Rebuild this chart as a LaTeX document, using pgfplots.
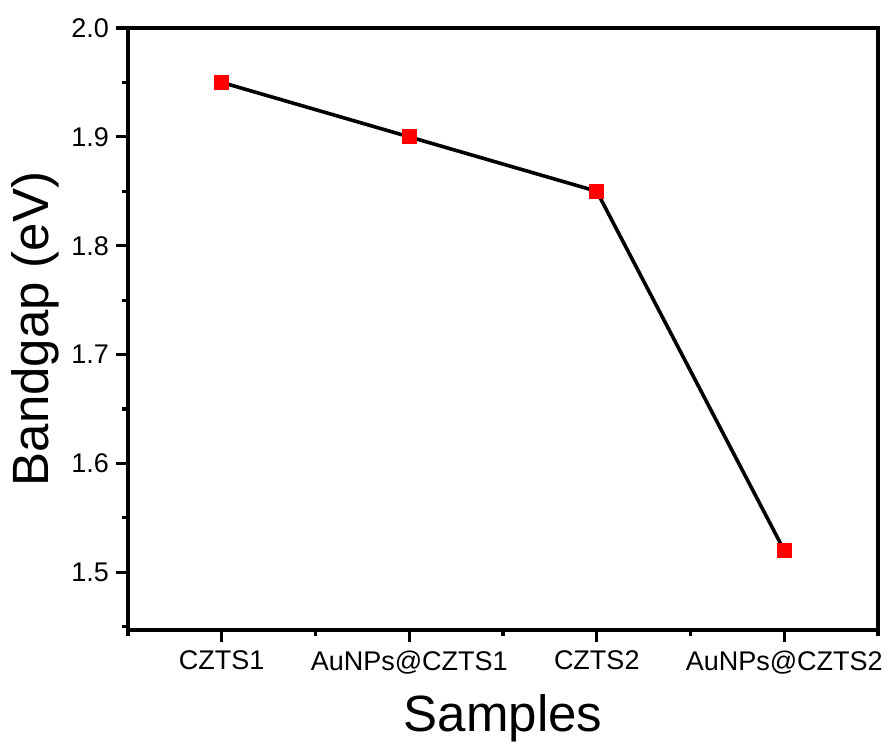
\documentclass[border=0pt]{standalone}
\usepackage{fontspec}
\setmainfont{Liberation Sans}
\usepackage{pgfplots}
\pgfplotsset{compat=1.18}
\usetikzlibrary{calc}

\begin{document}
\begin{tikzpicture}
\begin{axis}[
    width=375pt, height=301pt,
    scale only axis,
    separate axis lines,
    axis line style={black, line width=2.2pt},
    every outer x axis line/.append style={line width=2.2pt, line cap=rect},
    every outer y axis line/.append style={line width=2.2pt, line cap=rect},
    xmin=-0.5, xmax=3.5,
    ymin=1.447, ymax=2.0,
    xtick={0,1,2,3},
    xticklabels={CZTS1, AuNPs@CZTS1, CZTS2, AuNPs@CZTS2},
    minor xtick={-0.5,0.5,1.5,2.5,3.5},
    ytick={1.5,1.6,1.7,1.8,1.9,2.0},
    minor ytick={1.45,1.55,1.65,1.75,1.85,1.95},
    yticklabel style={/pgf/number format/.cd, fixed, fixed zerofill, precision=1},
    /pgf/number format/assume math mode=true,
    tick align=outside,
    xtick pos=left, ytick pos=left,
    major tick length=6pt, minor tick length=3pt,
    every tick/.style={black, line width=1.6pt},
    tick label style={font=\fontsize{13.5}{16}\selectfont},
    label style={font=\fontsize{25.5}{30}\selectfont},
    xlabel={Samples}, ylabel={Bandgap (eV)},
    xlabel style={at={(axis description cs:0.5,0)}, anchor=center, yshift=-44pt},
    ylabel style={at={(axis description cs:0,0.5)}, anchor=center, yshift=46.5pt},
    xticklabel style={yshift=-1pt},
]
\addplot[black, line width=1.8pt, mark=square*,
    mark options={fill=red, draw=red, line width=0pt}, mark size=3.5pt]
coordinates {
    (0, 1.95)
    (1, 1.90)
    (2, 1.85)
    (3, 1.52)
};
\end{axis}
\pgfresetboundingbox
\path ($(current axis.south west)+(-64pt,-60.5pt)$) rectangle ($(current axis.north east)+(7pt,14pt)$);
\end{tikzpicture}
\end{document}
